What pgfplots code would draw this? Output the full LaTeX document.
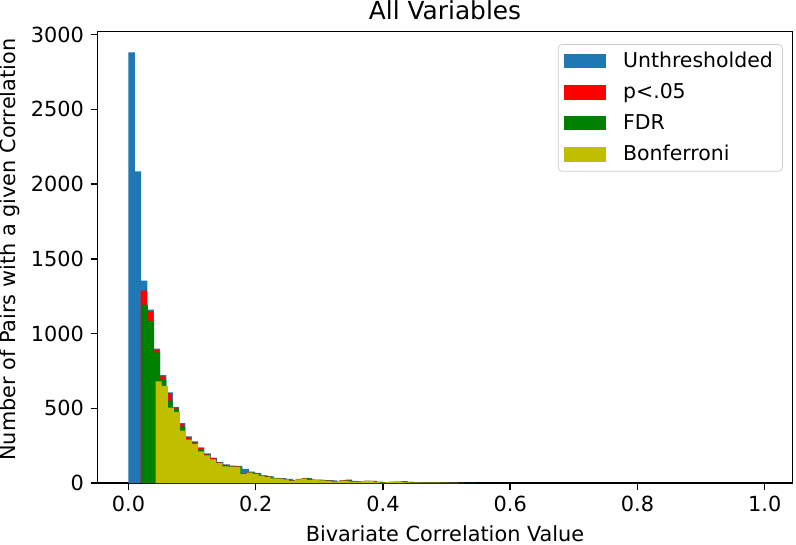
\documentclass[border=0pt]{standalone}
\usepackage{fontspec}
\setmainfont{DejaVu Sans}
\usepackage{pgfplots}
\usepackage{pgfplotstable}
\pgfplotsset{compat=1.18}

\definecolor{cblue}{HTML}{1F77B4}
\definecolor{cred}{HTML}{FF0000}
\definecolor{cgreen}{HTML}{008000}
\definecolor{cyell}{HTML}{BFBF00}

% bin counts, one table per series (last row closes the final bin)
\pgfplotstableread{
c
2882
2086
1354
1160
900
722
606
510
400
312
278
238
198
170
140
124
116
114
94
76
68
52
45
35
33
27
18
28
34
23
22
20
17
12
18
14
11
15
15
8
5
8
9
11
7
6
3
2
2
3
3
2
1
1
1
0
}\unth

\pgfplotstableread{
c
1287
1149
892
714
602
505
395
308
275
234
194
167
138
122
114
112
62
74
66
50
44
33
32
26
17
27
32
22
21
19
17
11
17
22
11
10
15
14
8
4
8
8
11
7
5
2
2
3
3
2
1
1
0
}\pfive

\pgfplotstableread{
c
1193
1086
874
691
551
497
379
294
272
225
190
162
135
115
112
110
62
72
64
49
42
32
31
25
16
26
31
21
20
18
16
10
16
18
10
9
14
13
7
4
7
7
9
6
4
2
2
2
2
1
1
1
0
}\fdr

\pgfplotstableread{
c
680
650
504
475
350
290
262
212
185
158
133
111
109
108
60
70
62
48
40
31
30
24
15
25
30
20
19
17
15
10
15
15
9
8
13
12
7
3
6
6
7
5
3
2
2
2
2
1
1
1
0
}\bonf

\pgfplotsset{
  legend image code/.code={\fill[#1, sharp corners] (1.5pt,-3.7pt) rectangle (23.5pt,3.7pt);},
}

\begin{document}
\begin{tikzpicture}
\begin{axis}[
    scale only axis,
    width=364.1pt, height=236.3pt,
    xmin=-0.049, xmax=1.044,
    ymin=0, ymax=3020,
    axis line style={line width=0.8pt},
    tick style={black, line width=0.8pt},
    major tick length=3.5pt,
    tick align=outside,
    xtick pos=bottom, ytick pos=left,
    xtick={0,0.2,0.4,0.6,0.8,1.0},
    ytick={0,500,1000,1500,2000,2500,3000},
    xticklabel style={/pgf/number format/.cd, fixed, fixed zerofill, precision=1},
    /pgf/number format/1000 sep={},
    /pgf/number format/assume math mode=true,
    tick label style={font=\fontsize{10.9}{13}\selectfont},
    label style={font=\fontsize{10.9}{13}\selectfont},
    ylabel style={xshift=4pt, yshift=-1pt},
    every axis title shift=0pt,
    title style={font=\fontsize{13}{15}\selectfont, at={(0.5,1)}, anchor=base, yshift=6.5pt, inner sep=0pt},
    title={All Variables},
    xlabel={Bivariate Correlation Value},
    ylabel={Number of Pairs with a given Correlation},
    legend cell align=left,
    legend style={at={(1,1)}, anchor=north east, xshift=-5.2pt, yshift=-6.5pt,
      draw=black!20, rounded corners=2pt, inner xsep=3pt, inner ysep=2pt,
      row sep=2.8pt, font=\fontsize{10.7}{13}\selectfont,
      /tikz/every odd column/.append style={column sep=7pt}},
]
\addplot[const plot, fill=cblue, draw=none] table[x expr={\coordindex*0.00995}, y=c] {\unth} \closedcycle;
\addlegendentry{Unthresholded}
\addplot[const plot, fill=cred, draw=none] table[x expr={0.0192+\coordindex*0.00976}, y=c] {\pfive} \closedcycle;
\addlegendentry{p<.05}
\addplot[const plot, fill=cgreen, draw=none] table[x expr={0.0207+\coordindex*0.00974}, y=c] {\fdr} \closedcycle;
\addlegendentry{FDR}
\addplot[const plot, fill=cyell, draw=none] table[x expr={0.0427+\coordindex*0.00952}, y=c] {\bonf} \closedcycle;
\addlegendentry{Bonferroni}
\end{axis}
\pgfresetboundingbox
\path ([shift={(-50.95pt,-32.3pt)}]current axis.south west) rectangle ([shift={(1.73pt,16.6pt)}]current axis.north east);
\end{tikzpicture}
\end{document}
